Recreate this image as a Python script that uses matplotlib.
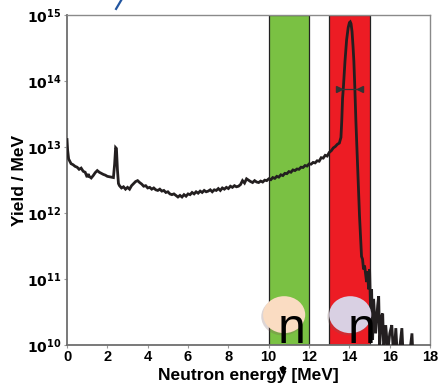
import math

import matplotlib
matplotlib.use('Agg')
import matplotlib.pyplot as plt
import matplotlib.ticker as ticker
from matplotlib.patches import Ellipse, FancyArrowPatch
from matplotlib.lines import Line2D

plt.rcParams.update({
    'font.family': ['Liberation Sans', 'DejaVu Sans'],
    'font.weight': 'bold',
    'mathtext.default': 'regular',
})

# neutron spectrum, energy in MeV, yield in units of 1e12 / MeV
energy = [
    0.00, 0.03, 0.08, 0.15, 0.20, 0.30, 0.40, 0.50, 0.60, 0.70,
    0.80, 0.90, 1.00, 1.05, 1.10, 1.20, 1.30, 1.40, 1.50, 1.60,
    1.70, 1.80, 1.90, 2.00, 2.10, 2.20, 2.30, 2.36, 2.41, 2.45,
    2.50, 2.55, 2.60, 2.70, 2.80, 2.90, 3.00, 3.10, 3.20, 3.30,
    3.40, 3.50, 3.60, 3.70, 3.80, 3.90, 4.00, 4.10, 4.20, 4.30,
    4.40, 4.50, 4.60, 4.70, 4.80, 4.90, 5.00, 5.10, 5.20, 5.30,
    5.40, 5.50, 5.60, 5.70, 5.80, 5.90, 6.00, 6.10, 6.20, 6.30,
    6.40, 6.50, 6.60, 6.70, 6.80, 6.90, 7.00, 7.10, 7.20, 7.30,
    7.40, 7.50, 7.60, 7.70, 7.80, 7.90, 8.00, 8.10, 8.20, 8.30,
    8.40, 8.50, 8.60, 8.70, 8.80, 8.90, 9.00, 9.10, 9.20, 9.30,
    9.40, 9.50, 9.60, 9.70, 9.80, 9.90, 10.0, 10.1, 10.2, 10.3,
    10.4, 10.5, 10.6, 10.7, 10.8, 10.9, 11.0, 11.1, 11.2, 11.3,
    11.4, 11.5, 11.6, 11.7, 11.8, 11.9, 12.0, 12.1, 12.2, 12.3,
    12.4, 12.5, 12.6, 12.7, 12.8, 12.9, 13.0, 13.1, 13.2, 13.3,
    13.4, 13.5, 13.58, 13.62, 13.66, 13.70, 13.78, 13.86, 13.94, 14.00,
    14.04, 14.08, 14.13, 14.18, 14.22, 14.27, 14.32, 14.38, 14.44, 14.50,
    14.55, 14.60, 14.65, 14.70, 14.75, 14.80, 14.85, 14.90, 14.95, 15.00,
    15.05, 15.10, 15.15, 15.20, 15.30, 15.40, 15.45, 15.50, 15.60, 15.65,
    15.70, 15.80, 15.90, 16.00, 16.10, 16.20, 16.30, 16.40, 16.60, 16.70,
    17.00, 17.10, 17.20, 17.50,
]
yield_1e12 = [
    13.0, 9.0, 6.6, 6.0, 5.6, 5.4, 5.1, 4.95, 4.6, 4.8,
    4.3, 4.15, 3.5, 3.9, 3.6, 3.4, 3.7, 4.1, 4.4, 4.15,
    4.0, 3.85, 3.75, 3.6, 3.55, 3.5, 3.45, 5.5, 9.8, 9.5,
    4.5, 2.8, 2.6, 2.4, 2.5, 2.3, 2.45, 2.3, 2.6, 2.8,
    3.0, 3.1, 2.9, 2.75, 2.55, 2.6, 2.4, 2.45, 2.3, 2.4,
    2.25, 2.2, 2.3, 2.15, 2.2, 2.05, 2.1, 1.95, 1.9, 1.95,
    1.85, 1.75, 1.85, 1.75, 1.9, 1.8, 1.95, 1.9, 2.05, 1.95,
    2.1, 2.0, 2.15, 2.05, 2.2, 2.1, 2.15, 2.25, 2.1, 2.25,
    2.2, 2.35, 2.2, 2.4, 2.3, 2.45, 2.35, 2.55, 2.45, 2.6,
    2.5, 2.55, 2.7, 3.1, 2.85, 3.3, 3.15, 3.0, 2.9, 3.1,
    2.95, 2.9, 3.05, 2.95, 3.15, 3.1, 3.3, 3.2, 3.45, 3.35,
    3.6, 3.5, 3.8, 3.7, 4.0, 3.95, 4.25, 4.15, 4.5, 4.4,
    4.65, 4.6, 4.95, 4.9, 5.25, 5.15, 5.55, 5.5, 5.85, 5.75,
    6.2, 6.1, 6.9, 6.8, 7.5, 7.3, 8.3, 8.8, 9.7, 10.2,
    11.0, 11.5, 14.0, 25.0, 55.0, 80.0, 200.0, 420.0, 650.0, 770.0,
    790.0, 740.0, 560.0, 330.0, 200.0, 76.0, 25.0, 8.0, 2.5, 0.9,
    0.45, 0.22, 0.2, 0.14, 0.16, 0.12, 0.09, 0.13, 0.07, 0.14,
    0.03, 0.07, 0.012, 0.05, 0.015, 0.04, 0.055, 0.01, 0.028, 0.03,
    0.008, 0.02, 0.008, 0.015, 0.02, 0.006, 0.018, 0.005, 0.018, 0.004,
    0.008, 0.015, 0.003, 0.002,
]
yields = [v * 1e12 for v in yield_1e12]

green_band = (10, 12)
red_band = (13, 15)
fwhm_left, fwhm_right, fwhm_level = 13.48, 14.51, 7.6e13

fig = plt.figure(figsize=(4.38, 3.87), dpi=100)
ax = fig.add_axes([0.153, 0.1085, 0.829, 0.8525])

ax.axvspan(*green_band, facecolor='#7AC143', edgecolor='#222222', lw=0.9, zorder=1)
ax.axvspan(*red_band, facecolor='#ED1C24', edgecolor='#222222', lw=0.9, zorder=1)

ax.plot(energy, yields, color='#231F20', lw=2.0, zorder=3, solid_joinstyle='miter')

# FWHM marker
ax.plot([fwhm_left, fwhm_right], [fwhm_level, fwhm_level], color='#333333', lw=0.9, zorder=4)
ax.plot([fwhm_left], [fwhm_level], marker='>', ms=5, color='#333333', zorder=4)
ax.plot([fwhm_right], [fwhm_level], marker='<', ms=5, color='#333333', zorder=4)

ax.set_yscale('log')
ax.set_xlim(0, 18)
ax.set_ylim(1e10, 1e15)
ax.set_xticks(range(0, 19, 2))
ax.yaxis.set_major_locator(ticker.LogLocator(base=10, numticks=10))
ax.yaxis.set_minor_locator(ticker.NullLocator())
ax.yaxis.set_major_formatter(ticker.FuncFormatter(
    lambda v, _: r'$\mathbf{10^{%d}}$' % round(math.log10(v))))
ax.tick_params(axis='x', labelsize=10.5, length=2, color='#999999', pad=1.5)
ax.tick_params(axis='y', labelsize=10, length=2, color='#999999', pad=2)

for s in ['left', 'bottom']:
    ax.spines[s].set_color('#6E6E6E')
    ax.spines[s].set_linewidth(1.3)
for s in ['top', 'right']:
    ax.spines[s].set_color('#8A8A8A')
    ax.spines[s].set_linewidth(1.0)

ax.set_xlabel('Neutron energy [MeV]', fontsize=12.5, fontweight='bold', labelpad=3)
ax.set_ylabel('Yield / MeV', fontsize=12.5, fontweight='bold', labelpad=0)

# neutron symbols
for cx, col in ((0.598, '#FADCC2'), (0.780, '#D9D0E3')):
    ax.add_patch(Ellipse((cx - 0.004, 0.086), 0.118, 0.114, transform=ax.transAxes,
                         facecolor='#7a5a5a', alpha=0.25, lw=0, zorder=5, clip_on=False))
    ax.add_patch(Ellipse((cx, 0.092), 0.116, 0.112, transform=ax.transAxes,
                         facecolor=col, lw=0, zorder=6, clip_on=False))
for tx in (0.618, 0.810):
    ax.text(tx, 0.006, 'n', transform=ax.transAxes, fontsize=36, fontweight='normal',
            ha='center', va='baseline', color='black', zorder=7, clip_on=False)

# small arrow under the axis label
fig.patches.append(FancyArrowPatch(
    (0.646, 0.058), (0.646, 0.022), transform=fig.transFigure,
    arrowstyle='-|>', mutation_scale=7, lw=2.2, color='black'))

# cut-off fragment of a title at the top edge
fig.add_artist(Line2D([0.265, 0.277], [0.977, 1.0],
                      transform=fig.transFigure, color='#2356A0', lw=1.6))

fig.savefig('out.png', dpi=100, facecolor='white')
